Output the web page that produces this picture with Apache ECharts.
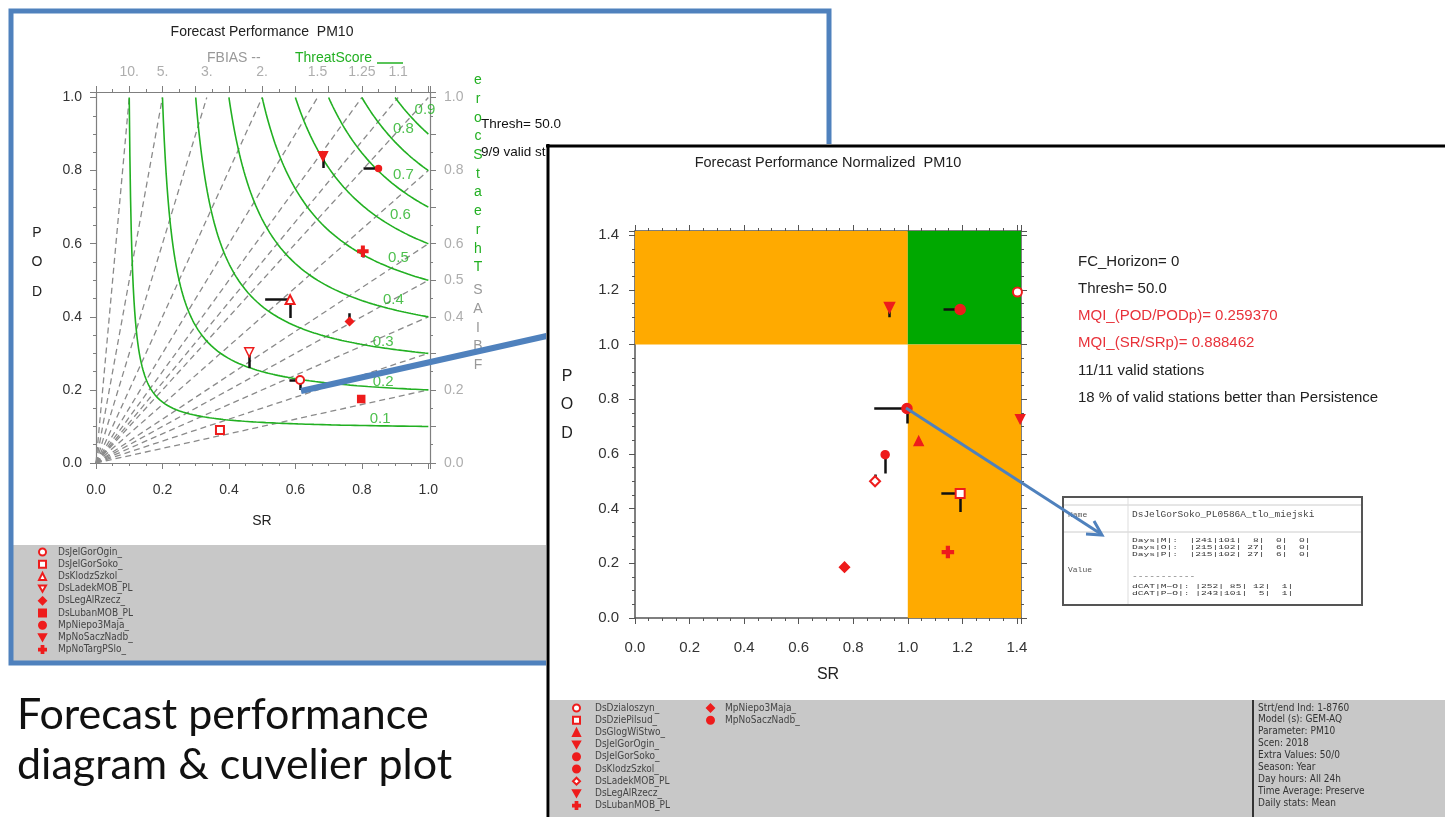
<!DOCTYPE html>
<html>
<head>
<meta charset="utf-8">
<script src="https://cdn.jsdelivr.net/npm/echarts@6/dist/echarts.min.js"></script>
<style>
  html, body { margin: 0; padding: 0; background: #fff; width: 1445px; height: 817px; overflow: hidden; }
  #left { position: absolute; left: 0; top: 0; width: 840px; height: 817px; }
  #right { position: absolute; left: 546px; top: 144px; width: 899px; height: 673px; background: #fff; z-index: 2; }
</style>
</head>
<body>
<div id="left"></div>
<div id="right"></div>
<script>
// ---- data: forecast performance diagram (left) ----
var csiLevels = [0.1, 0.2, 0.3, 0.4, 0.5, 0.6, 0.7, 0.8, 0.9];
var fbiasTop = [10, 5, 3, 2, 1.5, 1.25, 1.1];
var fbiasRight = [1.0, 0.8, 0.6, 0.5, 0.4, 0.3, 0.2];
var rightAxisLabels = [1.0, 0.8, 0.6, 0.5, 0.4, 0.2, 0.0];

var leftStations = ['DsJelGorOgin_', 'DsJelGorSoko_', 'DsKlodzSzkol_', 'DsLadekMOB_PL', 'DsLegAlRzecz_',
                    'DsLubanMOB_PL', 'MpNiepo3Maja_', 'MpNoSaczNadb_', 'MpNoTargPSlo_'];
var leftSR   = [0.614, 0.373, 0.584, 0.461, 0.763, 0.798, 0.850, 0.683, 0.803];
var leftPOD  = [0.227, 0.090, 0.447, 0.303, 0.387, 0.175, 0.806, 0.839, 0.579];
var leftSRp  = [0.582, null, 0.509, null, null, null, 0.805, null, null];
var leftPODp = [0.200, null, 0.397, 0.260, 0.410, null, null, 0.807, 0.562];

// ---- data: normalized (cuvelier) plot (right) ----
var rightStations = ['DsDzialoszyn_', 'DsDziePilsud_', 'DsGlogWiStwo_', 'DsJelGorOgin_', 'DsJelGorSoko_',
                     'DsKlodzSzkol_', 'DsLadekMOB_PL', 'DsLegAlRzecz_', 'DsLubanMOB_PL', 'MpNiepo3Maja_', 'MpNoSaczNadb_'];
var rightSR   = [1.402, 1.192, 1.040, 0.933, 0.997, 1.192, 0.880, 1.412, 1.147, 0.768, 0.917];
var rightPOD  = [1.192, 0.455, 0.647, 1.135, 0.766, 1.128, 0.500, 0.727, 0.241, 0.186, 0.597];
var rightSRp  = [null, 1.123, null, null, 0.877, 1.131, null, null, null, null, null];
var rightPODp = [null, 0.388, null, 1.100, 0.711, null, 0.525, null, null, null, 0.528];
var goodLimit = 1.0;

var infoLines = ['FC_Horizon= 0', 'Thresh= 50.0', 'MQI_(POD/PODp)= 0.259370', 'MQI_(SR/SRp)= 0.888462',
                 '11/11 valid stations', '18 % of valid stations better than Persistence'];
var runInfo = ['Strt/end Ind: 1-8760', 'Model (s): GEM-AQ', 'Parameter: PM10', 'Scen: 2018', 'Extra Values: 50/0',
               'Season: Year', 'Day hours: All 24h', 'Time Average: Preserve', 'Daily stats: Mean'];
var tableRows = ['Days|M|:  |241|101|  8|  0|  0|', 'Days|O|:  |215|102| 27|  6|  0|', 'Days|P|:  |215|102| 27|  6|  0|',
                 '-----------', 'dCAT|M~O|: |252| 85| 12|  1|', 'dCAT|P~O|: |243|101|  5|  1|'];

// ---- styles ----
var SANS = '"Liberation Sans", Arial, sans-serif';
var NARROW = '"Liberation Sans Narrow", "DejaVu Sans Condensed", sans-serif';
var MONO = '"Liberation Mono", "DejaVu Sans Mono", monospace';
var RED = '#ee1c1c';
var GREEN = '#22b022';
var BLUE = '#4f81bd';
var PLUS = 'path://M3,0H5V3H8V5H5V8H3V5H0V3H3Z';
var DOWN = 'path://M0,0H10L5,9Z';

var leftSym = [
  {symbol: 'emptyCircle', size: 8}, {symbol: 'emptyRect', size: 8}, {symbol: 'emptyTriangle', size: 9},
  {symbol: DOWN, size: 9, hollow: true}, {symbol: 'diamond', size: 8}, {symbol: 'rect', size: 7},
  {symbol: 'circle', size: 6}, {symbol: DOWN, size: 9}, {symbol: PLUS, size: 10}
];
var rightSym = [
  {symbol: 'emptyCircle', size: 9}, {symbol: 'emptyRect', size: 9}, {symbol: 'triangle', size: 9},
  {symbol: DOWN, size: 10}, {symbol: 'circle', size: 10}, {symbol: 'circle', size: 10},
  {symbol: 'emptyDiamond', size: 10}, {symbol: DOWN, size: 9}, {symbol: PLUS, size: 11},
  {symbol: 'diamond', size: 10}, {symbol: 'circle', size: 8}
];

function snap(v) { return Math.abs(v * 5 - Math.round(v * 5)) < 1e-6 ? v.toFixed(1) : ''; }

function stationSeries(names, sr, pod, syms) {
  return names.map(function (n, i) {
    var s = syms[i];
    return {
      name: n, type: 'scatter', data: [[sr[i], pod[i]]], symbol: s.symbol, symbolSize: s.size,
      clip: false, z: 6,
      itemStyle: {color: s.hollow ? '#fff' : RED, borderColor: RED, borderWidth: 1.5, opacity: 1}
    };
  });
}

function persistenceSegments(sr, pod, srp, podp) {
  var segs = [];
  sr.forEach(function (x, i) {
    if (srp[i] != null) segs.push({coords: [[srp[i], pod[i]], [x, pod[i]]]});
    if (podp[i] != null) segs.push({coords: [[x, pod[i]], [x, podp[i]]]});
  });
  return {type: 'lines', coordinateSystem: 'cartesian2d', data: segs, silent: true, z: 5,
          lineStyle: {color: '#111', width: 2.5, opacity: 1}};
}

function stationLegend(names, left, top, gapText) {
  return {
    data: names, orient: 'vertical', left: left, top: top, padding: 0, itemWidth: 7, itemHeight: 7, itemGap: 2.2,
    selectedMode: false,
    textStyle: {fontSize: 10, lineHeight: 10, color: '#444', fontFamily: NARROW, padding: [0, 0, 0, gapText]}
  };
}

// ================= LEFT: performance diagram =================
var leftChart = echarts.init(document.getElementById('left'));
var xMaxL = 1.005, yMaxL = 1.015;
var leftSeries = [];

// threat score isolines: POD = 1 / (1/CSI - 1/SR + 1)
csiLevels.forEach(function (c) {
  var pts = [];
  for (var i = 0; i <= 120; i++) {
    var s = c * Math.pow(1 / c, i / 120);
    pts.push([s, 1 / (1 / c - 1 / s + 1)]);
  }
  leftSeries.push({type: 'line', data: pts, showSymbol: false, silent: true, z: 3,
                   lineStyle: {color: GREEN, width: 1.6}});
});
// frequency bias lines POD = FBIAS * SR
leftSeries.push({
  type: 'lines', coordinateSystem: 'cartesian2d', silent: true, z: 2,
  lineStyle: {color: '#8a8a8a', width: 1.3, type: [6, 4], opacity: 1},
  data: fbiasTop.concat(fbiasRight).map(function (b) {
    return {coords: [[0, 0], [Math.min(1, 1 / b), Math.min(1, b)]]};
  })
});
// isoline labels
var csiLabelSR = [0.855, 0.864, 0.864, 0.895, 0.91, 0.916, 0.925, 0.925, 0.99];
var csiLabelDy = [-7, -6, -6, -10, -13, -16, -17, -21, -21];
leftSeries.push({
  type: 'scatter', symbolSize: 0, silent: true, clip: false, z: 4,
  data: csiLevels.map(function (c, i) {
    var s = csiLabelSR[i];
    return {value: [s, 1 / (1 / c - 1 / s + 1)], label: {offset: [0, csiLabelDy[i]]}};
  }),
  label: {show: true, position: 'inside', color: GREEN, fontSize: 15, fontFamily: SANS,
          formatter: function (p) { return csiLevels[p.dataIndex].toFixed(1); }}
});
// FBIAS labels on top and right
leftSeries.push({
  type: 'scatter', symbolSize: 0, silent: true, clip: false,
  data: fbiasTop.map(function (b) { return [1 / b, yMaxL]; }),
  label: {show: true, position: 'top', distance: 13, color: '#999', fontSize: 14, fontFamily: SANS,
          formatter: function (p) { var b = fbiasTop[p.dataIndex]; return Number.isInteger(b) ? b + '.' : String(b); }}
});
leftSeries.push({
  type: 'scatter', symbolSize: 0, silent: true, clip: false,
  data: rightAxisLabels.map(function (b) { return [xMaxL, b]; }),
  label: {show: true, position: 'right', distance: 14, color: '#999', fontSize: 14, fontFamily: SANS,
          formatter: function (p) { return rightAxisLabels[p.dataIndex].toFixed(1); }}
});
leftSeries.push(persistenceSegments(leftSR, leftPOD, leftSRp, leftPODp));
leftSeries = leftSeries.concat(stationSeries(leftStations, leftSR, leftPOD, leftSym));

function axisCommon(extra) {
  var base = {
    type: 'value', min: 0, splitLine: {show: false},
    axisLine: {show: true, onZero: false, lineStyle: {color: '#7f7f7f', width: 1.2}},
    axisTick: {show: true, inside: false, length: 6, lineStyle: {color: '#7f7f7f'}},
    minorTick: {show: true, length: 3, lineStyle: {color: '#7f7f7f'}},
    axisLabel: {show: false}
  };
  return Object.assign(base, extra);
}

leftChart.setOption({
  animation: false,
  grid: {left: 96, top: 92, width: 334, height: 371},
  xAxis: [
    axisCommon({position: 'bottom', max: xMaxL, interval: 0.2, minorTick: {show: true, splitNumber: 4, length: 3, lineStyle: {color: '#7f7f7f'}},
      axisLabel: {show: true, formatter: snap, margin: 20, fontSize: 14, color: '#333', fontFamily: SANS}}),
    axisCommon({position: 'top', max: xMaxL, interval: 0.1, minorTick: {show: true, splitNumber: 2, length: 3, lineStyle: {color: '#7f7f7f'}}})
  ],
  yAxis: [
    axisCommon({position: 'left', max: yMaxL, interval: 0.2, minorTick: {show: true, splitNumber: 4, length: 3, lineStyle: {color: '#7f7f7f'}},
      axisLabel: {show: true, formatter: snap, margin: 14, fontSize: 14, color: '#333', fontFamily: SANS}}),
    axisCommon({position: 'right', max: yMaxL, interval: 0.1, minorTick: {show: true, splitNumber: 2, length: 3, lineStyle: {color: '#7f7f7f'}}})
  ],
  legend: stationLegend(leftStations, 38, 547, 7),
  series: leftSeries,
  graphic: [
    {type: 'rect', z: 0, shape: {x: 12, y: 545, width: 816, height: 117}, style: {fill: '#c8c8c8'}},
    {type: 'rect', z: 1, shape: {x: 11, y: 11, width: 818, height: 652}, style: {fill: null, stroke: BLUE, lineWidth: 5}},
    {type: 'text', x: 262, y: 32, style: {text: 'Forecast Performance  PM10', font: '14px ' + SANS, fill: '#222', align: 'center', verticalAlign: 'middle'}},
    {type: 'text', x: 207, y: 58, style: {text: 'FBIAS --', font: '14px ' + SANS, fill: '#999', verticalAlign: 'middle'}},
    {type: 'text', x: 295, y: 58, style: {text: 'ThreatScore', font: '14px ' + SANS, fill: GREEN, verticalAlign: 'middle'}},
    {type: 'line', shape: {x1: 377, y1: 63, x2: 403, y2: 63}, style: {stroke: GREEN, lineWidth: 1.5}},
    {type: 'text', x: 478, y: 71, style: {text: 'e\nr\no\nc\nS\nt\na\ne\nr\nh\nT', font: '14px ' + SANS, fill: GREEN, align: 'center', lineHeight: 18.7}},
    {type: 'text', x: 478, y: 281, style: {text: 'S\nA\nI\nB\nF', font: '14px ' + SANS, fill: '#999', align: 'center', lineHeight: 18.7}},
    {type: 'text', x: 37, y: 218, style: {text: 'P\nO\nD', font: '14px ' + SANS, fill: '#222', align: 'center', lineHeight: 29.5}},
    {type: 'text', x: 262, y: 521, style: {text: 'SR', font: '14px ' + SANS, fill: '#222', align: 'center', verticalAlign: 'middle'}},
    {type: 'text', x: 481, y: 124, style: {text: 'Thresh= 50.0', font: '13.5px ' + SANS, fill: '#111', verticalAlign: 'middle'}},
    {type: 'text', x: 481, y: 152, style: {text: '9/9 valid stations', font: '13.5px ' + SANS, fill: '#111', verticalAlign: 'middle'}},
    {type: 'line', z: 100, shape: {x1: 301, y1: 391, x2: 560, y2: 333}, style: {stroke: BLUE, lineWidth: 6}},
    {type: 'text', x: 17, y: 690, style: {text: 'Forecast performance\ndiagram & cuvelier plot', font: '43px Lato, "Open Sans", sans-serif', fill: '#111', lineHeight: 50}}
  ]
});

// ================= RIGHT: normalized plot =================
var rightChart = echarts.init(document.getElementById('right'));
var maxN = 1.415;
var rightSeries = [{
  type: 'scatter', data: [[0, 0]], symbolSize: 0, silent: true, z: 1,
  markArea: {
    silent: true,
    data: [
      [{coord: [0, goodLimit], itemStyle: {color: '#ffaa00'}}, {coord: [goodLimit, maxN]}],
      [{coord: [goodLimit, goodLimit], itemStyle: {color: '#00a800'}}, {coord: [maxN, maxN]}],
      [{coord: [goodLimit, 0], itemStyle: {color: '#ffaa00'}}, {coord: [maxN, goodLimit]}]
    ]
  }
}];
rightSeries.push(persistenceSegments(rightSR, rightPOD, rightSRp, rightPODp));
rightSeries = rightSeries.concat(stationSeries(rightStations, rightSR, rightPOD, rightSym));

function rAxis(pos, withLabel) {
  var a = {
    type: 'value', min: 0, max: maxN, interval: 0.2, position: pos, splitLine: {show: false},
    axisLine: {show: true, onZero: false, lineStyle: {color: '#555', width: 1.5}},
    axisTick: {show: true, length: 6, lineStyle: {color: '#555'}},
    minorTick: {show: true, splitNumber: 4, length: 3, lineStyle: {color: '#555'}},
    axisLabel: {show: false}
  };
  if (withLabel) a.axisLabel = {show: true, formatter: snap, fontSize: 15, color: '#333', fontFamily: SANS,
                                margin: pos === 'bottom' ? 22 : 16};
  return a;
}

var tableY = [0, 11, 22, 55, 71, 82];
var tableChildren = tableRows.map(function (t, i) {
  return {type: 'text', z: 12, x: 0, y: tableY[i], style: {text: t, font: '9.6px ' + MONO, fill: '#333'}};
});

rightChart.setOption({
  animation: false,
  grid: {left: 89, top: 87, width: 386, height: 387},
  xAxis: [rAxis('bottom', true), rAxis('top', false)],
  yAxis: [rAxis('left', true), rAxis('right', false)],
  legend: [
    stationLegend(rightStations.slice(0, 9), 26, 559, 10),
    stationLegend(rightStations.slice(9), 160, 559, 6)
  ],
  series: rightSeries,
  graphic: [
    {type: 'rect', z: 0, shape: {x: 4, y: 556, width: 895, height: 117}, style: {fill: '#c8c8c8'}},
    {type: 'line', z: 1, shape: {x1: 707, y1: 556, x2: 707, y2: 673}, style: {stroke: '#333', lineWidth: 2}},
    {type: 'line', z: 50, shape: {x1: 0, y1: 2, x2: 899, y2: 2}, style: {stroke: '#000', lineWidth: 3}},
    {type: 'line', z: 50, shape: {x1: 2, y1: 0, x2: 2, y2: 673}, style: {stroke: '#000', lineWidth: 3}},
    {type: 'text', x: 282, y: 19, style: {text: 'Forecast Performance Normalized  PM10', font: '14.5px ' + SANS, fill: '#222', align: 'center', verticalAlign: 'middle'}},
    {type: 'text', x: 532, y: 104, style: {
      text: infoLines.map(function (t, i) { return (i === 2 || i === 3) ? '{r|' + t + '}' : '{k|' + t + '}'; }).join('\n'),
      lineHeight: 27.2, rich: {k: {font: '15px ' + SANS, fill: '#222', lineHeight: 27.2}, r: {font: '15px ' + SANS, fill: '#e8323a', lineHeight: 27.2}}}},
    {type: 'text', x: 21, y: 218, style: {text: 'P\nO\nD', font: '16px ' + SANS, fill: '#222', align: 'center', lineHeight: 28.5}},
    {type: 'text', x: 282, y: 531, style: {text: 'SR', font: '16px ' + SANS, fill: '#222', align: 'center', verticalAlign: 'middle'}},
    {type: 'text', x: 712, y: 558, style: {text: runInfo.join('\n'), font: '10px ' + NARROW, fill: '#333', lineHeight: 11.9}},
    // station detail box
    {type: 'rect', z: 10, shape: {x: 517, y: 353, width: 299, height: 108}, style: {fill: '#fff', stroke: '#555', lineWidth: 2}},
    {type: 'line', z: 11, shape: {x1: 518, y1: 361, x2: 815, y2: 361}, style: {stroke: '#ccc', lineWidth: 1}},
    {type: 'line', z: 11, shape: {x1: 518, y1: 388, x2: 815, y2: 388}, style: {stroke: '#ccc', lineWidth: 1}},
    {type: 'line', z: 11, shape: {x1: 582, y1: 354, x2: 582, y2: 460}, style: {stroke: '#ddd', lineWidth: 1}},
    {type: 'text', z: 12, x: 522, y: 371, style: {text: 'Name', font: '8px ' + MONO, fill: '#555', verticalAlign: 'middle'}},
    {type: 'text', z: 12, x: 522, y: 426, style: {text: 'Value', font: '8px ' + MONO, fill: '#555', verticalAlign: 'middle'}},
    {type: 'text', z: 12, x: 586, y: 370, style: {text: 'DsJelGorSoko_PL0586A_tlo_miejski', font: '9.5px ' + MONO, fill: '#444', verticalAlign: 'middle'}},
    {type: 'group', z: 12, x: 586, y: 393, scaleY: 0.65, children: tableChildren},
    // arrow to the detail box
    {type: 'line', z: 60, shape: {x1: 360, y1: 264, x2: 555, y2: 390}, style: {stroke: BLUE, lineWidth: 3}},
    {type: 'polyline', z: 60, shape: {points: [[540, 390], [556, 391], [548, 377]]}, style: {stroke: BLUE, lineWidth: 3, fill: null}}
  ]
});
</script>
</body>
</html>
